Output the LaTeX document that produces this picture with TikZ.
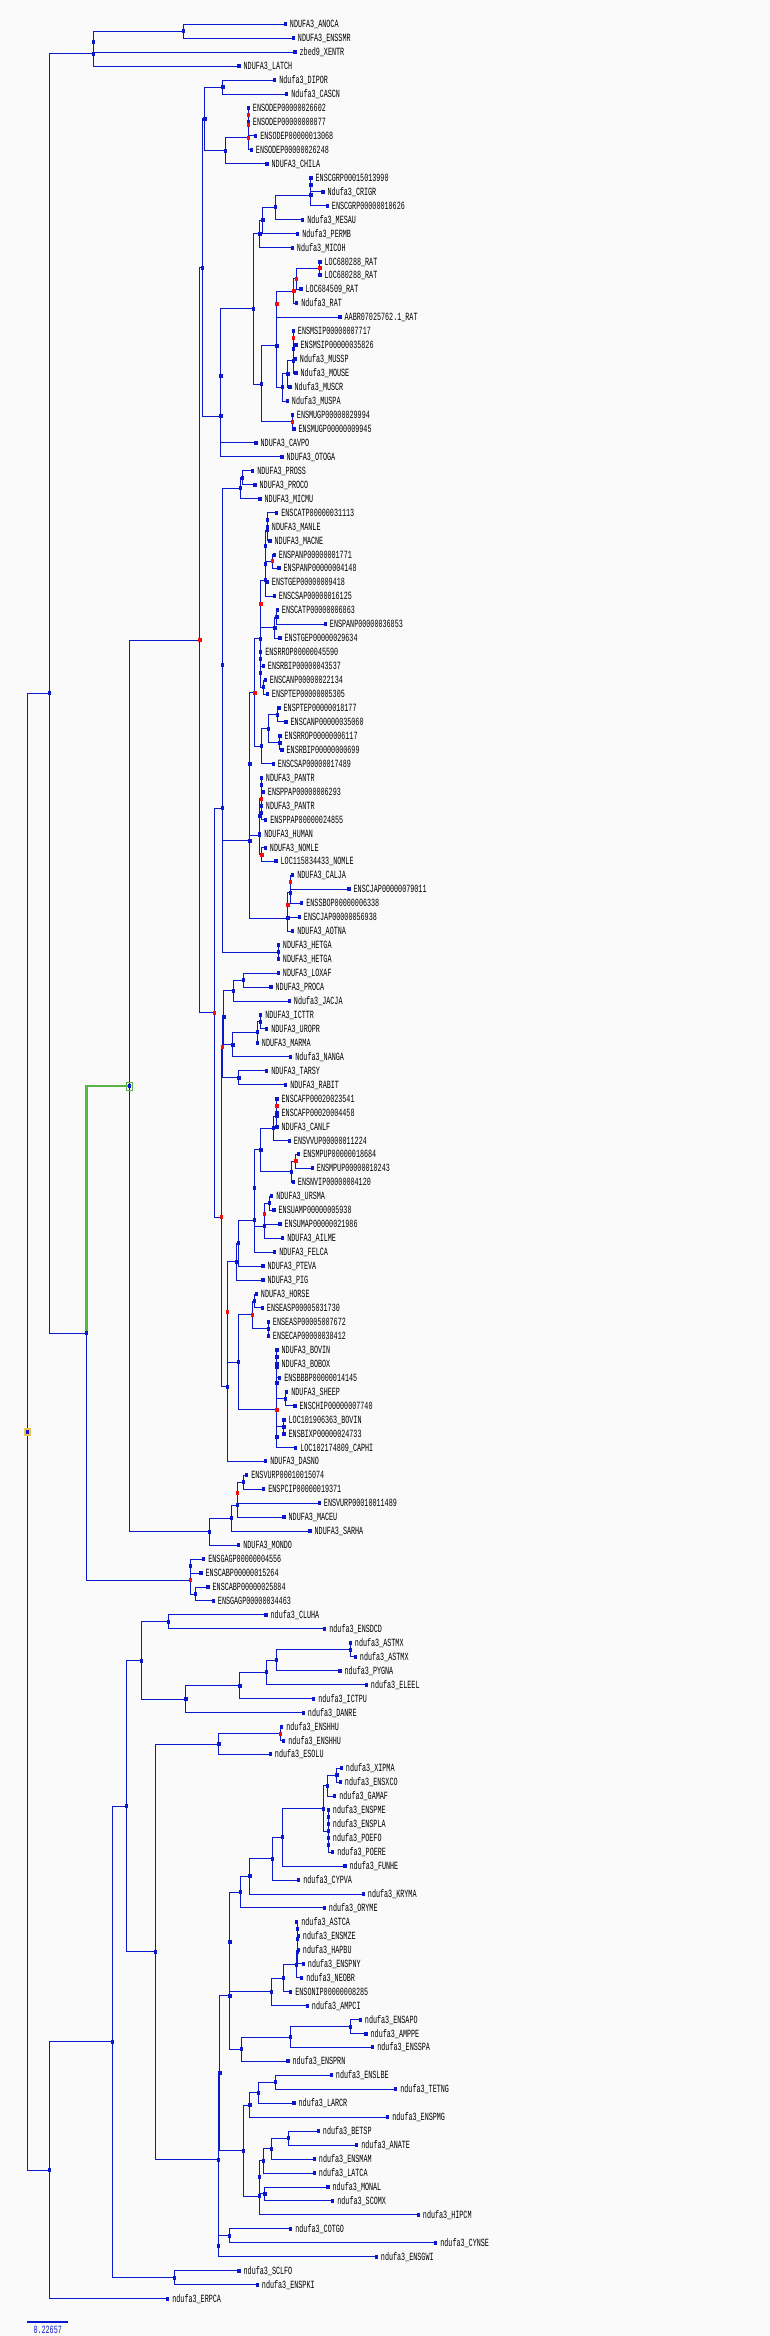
\documentclass[tikz,border=0pt]{standalone}
\usepackage{fontspec}
\newfontfamily\labfont[FakeStretch=0.614]{Liberation Mono}
\usetikzlibrary{backgrounds}
\definecolor{treeblue}{RGB}{12,24,204}
\definecolor{nodered}{RGB}{250,12,12}
\definecolor{hlgreen}{RGB}{92,180,72}
\definecolor{rootgold}{RGB}{236,196,84}
\definecolor{paper}{RGB}{250,250,250}
\tikzset{
  br/.style={treeblue, line width=1pt},
  gbr/.style={hlgreen, line width=2.7pt},
  leafsq/.style={fill=treeblue, inner sep=0pt, minimum width=3.3pt, minimum height=4pt},
  inode/.style={leafsq},
  rnode/.style={leafsq, fill=nodered},
  lab/.style={font=\labfont\fontsize{11}{11}\selectfont, inner sep=0pt, anchor=west, text height=7pt, text depth=0pt}
}
\begin{document}
\begin{tikzpicture}[x=1pt, y=-13.953pt]
\useasboundingbox (0,-0.7416) rectangle (770,166.68);

% leaves
\foreach \i/\x/\lbl in {1/285.3/NDUFA3\_ANOCA, 2/293.3/NDUFA3\_ENSSMR, 3/295/zbed9\_XENTR, 4/239/NDUFA3\_LATCH,
  5/274.7/Ndufa3\_DIPOR, 6/286.7/Ndufa3\_CASCN, 7/248.3/ENSODEP00000026602, 8/248.3/ENSODEP00000000877,
  9/255.7/ENSODEP00000013068, 10/251.3/ENSODEP00000026248, 11/267/NDUFA3\_CHILA, 12/311/ENSCGRP00015013990,
  13/323/Ndufa3\_CRIGR, 14/327.3/ENSCGRP00000010626, 15/302.7/Ndufa3\_MESAU, 16/297.7/Ndufa3\_PERMB,
  17/292.3/Ndufa3\_MICOH, 18/320/LOC680288\_RAT, 19/320/LOC680288\_RAT, 20/301/LOC684509\_RAT,
  21/296.7/Ndufa3\_RAT, 22/340/AABR07025762.1\_RAT, 23/293.3/ENSMSIP00000007717, 24/296/ENSMSIP00000035826,
  25/295.3/Ndufa3\_MUSSP, 26/296/Ndufa3\_MOUSE, 27/290/Ndufa3\_MUSCR, 28/287.3/Ndufa3\_MUSPA,
  29/292.3/ENSMUGP00000029994, 30/294/ENSMUGP00000009945, 31/256/NDUFA3\_CAVPO, 32/282/NDUFA3\_OTOGA,
  33/252.7/NDUFA3\_PROSS, 34/255/NDUFA3\_PROCO, 35/260/NDUFA3\_MICMU, 36/276.7/ENSCATP00000031113,
  37/267.3/NDUFA3\_MANLE, 38/270/NDUFA3\_MACNE, 39/274.3/ENSPANP00000001771, 40/279/ENSPANP00000004148,
  41/267.3/ENSTGEP00000009418, 42/274.3/ENSCSAP00000016125, 43/277.3/ENSCATP00000006863, 44/325.3/ENSPANP00000036853,
  45/280/ENSTGEP00000029634, 46/260.7/ENSRROP00000045590, 47/263.3/ENSRBIP00000043537, 48/265.3/ENSCANP00000022134,
  49/267.3/ENSPTEP00000005305, 50/279/ENSPTEP00000018177, 51/286/ENSCANP00000035060, 52/280/ENSRROP00000006117,
  53/282/ENSRBIP00000000699, 54/273.3/ENSCSAP00000017489, 55/261.3/NDUFA3\_PANTR, 56/263.3/ENSPPAP00000006293,
  57/261.3/NDUFA3\_PANTR, 58/265.7/ENSPPAP00000024855, 59/259.7/NDUFA3\_HUMAN, 60/265.3/NDUFA3\_NOMLE,
  61/276/LOC115834433\_NOMLE, 62/292.7/NDUFA3\_CALJA, 63/349/ENSCJAP00000079011, 64/301.7/ENSSBOP00000006338,
  65/299.3/ENSCJAP00000056938, 66/292.7/NDUFA3\_AOTNA, 67/278.3/NDUFA3\_HETGA, 68/278.3/NDUFA3\_HETGA,
  69/278.3/NDUFA3\_LOXAF, 70/271/NDUFA3\_PROCA, 71/289.3/Ndufa3\_JACJA, 72/260.7/NDUFA3\_ICTTR,
  73/266.7/NDUFA3\_UROPR, 74/257.3/NDUFA3\_MARMA, 75/290.7/Ndufa3\_NANGA, 76/266.7/NDUFA3\_TARSY,
  77/285.7/NDUFA3\_RABIT, 78/277/ENSCAFP00020023541, 79/277/ENSCAFP00020004458, 80/277/NDUFA3\_CANLF,
  81/289.3/ENSVVUP00000011224, 82/298.7/ENSMPUP00000018684, 83/312.3/ENSMPUP00000010243, 84/293.3/ENSNVIP00000004120,
  85/271.7/NDUFA3\_URSMA, 86/274/ENSUAMP00000005938, 87/280/ENSUMAP00000021986, 88/282.7/NDUFA3\_AILME,
  89/274.7/NDUFA3\_FELCA, 90/263/NDUFA3\_PTEVA, 91/263/NDUFA3\_PIG, 92/256.3/NDUFA3\_HORSE,
  93/262.3/ENSEASP00005031730, 94/268.3/ENSEASP00005007672, 95/268.3/ENSECAP00000038412, 96/277/NDUFA3\_BOVIN,
  97/277/NDUFA3\_BOBOX, 98/279.7/ENSBBBP00000014145, 99/286.7/NDUFA3\_SHEEP, 100/295/ENSCHIP00000007740,
  101/284/LOC101906363\_BOVIN, 102/284/ENSBIXP00000024733, 103/295.7/LOC102174809\_CAPHI, 104/265.7/NDUFA3\_DASNO,
  105/246.7/ENSVURP00010015074, 106/263.7/ENSPCIP00000019371, 107/319.3/ENSVURP00010011489, 108/284/NDUFA3\_MACEU,
  109/310/NDUFA3\_SARHA, 110/238.7/NDUFA3\_MONDO, 111/203.7/ENSGAGP00000004556, 112/201/ENSCABP00000015264,
  113/208/ENSCABP00000025884, 114/213.3/ENSGAGP00000034463, 115/266/ndufa3\_CLUHA, 116/324.7/ndufa3\_ENSDCD,
  117/350.3/ndufa3\_ASTMX, 118/355.3/ndufa3\_ASTMX, 119/340/ndufa3\_PYGNA, 120/366.3/ndufa3\_ELEEL,
  121/313.7/ndufa3\_ICTPU, 122/303.3/ndufa3\_DANRE, 123/281.7/ndufa3\_ENSHHU, 124/283.7/ndufa3\_ENSHHU,
  125/270.3/ndufa3\_ESOLU, 126/341.3/ndufa3\_XIPMA, 127/340.3/ndufa3\_ENSXCO, 128/334.7/ndufa3\_GAMAF,
  129/328.3/ndufa3\_ENSPME, 130/328.3/ndufa3\_ENSPLA, 131/328.3/ndufa3\_POEFO, 132/332.7/ndufa3\_POERE,
  133/345/ndufa3\_FUNHE, 134/298.7/ndufa3\_CYPVA, 135/363.3/ndufa3\_KRYMA, 136/324.3/ndufa3\_ORYME,
  137/296.7/ndufa3\_ASTCA, 138/298.3/ndufa3\_ENSMZE, 139/298.3/ndufa3\_HAPBU, 140/303.3/ndufa3\_ENSPNY,
  141/301.7/ndufa3\_NEOBR, 142/290.7/ENSONIP00000008285, 143/307.3/ndufa3\_AMPCI, 144/360.3/ndufa3\_ENSAPO,
  145/366/ndufa3\_AMPPE, 146/372.7/ndufa3\_ENSSPA, 147/288/ndufa3\_ENSPRN, 148/331.3/ndufa3\_ENSLBE,
  149/395.7/ndufa3\_TETNG, 150/294/ndufa3\_LARCR, 151/387.7/ndufa3\_ENSPMG, 152/318.3/ndufa3\_BETSP,
  153/356.7/ndufa3\_ANATE, 154/314.3/ndufa3\_ENSMAM, 155/314.3/ndufa3\_LATCA, 156/328/ndufa3\_MONAL,
  157/332.7/ndufa3\_SCOMX, 158/418.3/ndufa3\_HIPCM, 159/290.7/ndufa3\_COTGO, 160/435.7/ndufa3\_CYNSE,
  161/376.3/ndufa3\_ENSGWI, 162/239/ndufa3\_SCLFO, 163/257.3/ndufa3\_ENSPKI, 164/167.7/ndufa3\_ERPCA}{
  \node[leafsq] (l\i) at (\x,\i) {};
  \node[lab] (t\i) at ([xshift=2.6pt]l\i.east) {\lbl};
}

% inner nodes
\foreach \n/\x/\k in {A/49.3/48.96, B3/93.3/3.125, B2/93.3/2.25, B1/183.7/1.5, C/86.7/94.8, E1/190.3/111.5,
  E2/195.7/113.5, F/209.3/109.03, G/231.7/108.06, H/237.7/107.125, J/243.7/105.5, L/202.7/18.44, N/205/7.78,
  N1/223/5.5, O/225.7/10.06, S/221/29.1, U/221/26.2, T/253.3/21.4, V/260/16.02, W/263/15.05, X/275.3/14.1,
  Y/311/13.25, Z/311/12.5, AA/261.7/26.78, CC/277/24.05, FF/282.7/27.03, GG/288/26.06, LL/293.3/25.125,
  KK/293.3/24.25, NN/222.7/57.2, RR/278.3/67.5, OO/222.7/46.89, PP/240.7/34.25, PP1/242.3/33.5, QQ/250/59.53,
  SS/250/54.0, AC/260.7/45.03, AS/265.7/40.84, AR/265.7/39.69, AQ/265.7/38.375, AO/267.3/37.25, AN/267.3/36.5,
  AM/275/44.25, AL/277/43.5, AH/260.7/47.5, AJ/260.7/46.5, AI/263.3/48.5, AD/261.7/52.75, AE/268.3/51.5,
  AF/277.3/50.5, AG/280/52.5, UU/259.7/59.125, AB/259.7/57.75, XX/261.7/55.5, ZZ/261.3/57.5, VV/288/65.06,
  AU/290.7/63.25, BD/224/72.17, BF/233.7/70.25, BF1/243.3/69.5, BG/233/74.12, BH/257.3/73.25, BI/260.7/72.5,
  BE/239/76.5, BC/227.7/98.64, BK/236.7/89.67, BL/238.3/88.35, BM/254.3/86.7, BN/254.3/84.39, BP/261/81.66,
  BQ/273.3/80.13, BR/277/79.25, BT/291.7/83.25, BO/264.3/87.125, BV/269.7/85.5, BW/238.7/96.9, BY/254.7/92.5,
  BZ/268.3/94.5, CE/277/98.375, CF/277/97.25, CB/277/96.5, CC2/285.7/99.5, CG/277/102.25, CD/284/101.5,
  da/49.3/154.8, db/112.3/145.6, db1/174.3/162.5, dc/126.7/128.71, dd/141.3/118.27, de/168.7/115.5,
  df/186/121.03, dg/240/120.06, dh/266.7/119.125, di/276.7/118.25, dj/350.3/117.5, dk/155.3/139.15,
  dl/219/124.25, dn/218.3/154.04, do/220/147.84, dp/218.3/160.25, dq/229.3/159.5, dr/230/142.28,
  dt/230/138.44, du/240.7/134.87, dx/250/133.73, dy/272.7/132.47, dz/282.7/130.94, ea/323.3/128.875,
  ec/327.7/127.25, ed/337/126.5, eb/328.3/130.5, ee/328.3/129.5, ef/328.3/131.5, dv/271.7/142.02,
  eg/283.3/141.03, ek/296.7/140.06, ej/297.5/139.125, ei/297.5/138.25, eh/297.5/137.5, dw/241.3/146.125,
  el/290.7/145.25, em/350.3/144.5, ds/243.7/153.39, en/250/150.125, ep/258.3/149.25, eq/275.3/148.5,
  eo/259.7/156.66, ev/259.7/155.31, eu/263.7/154.125, es/271.7/153.25, et/288.3/152.5, er/265/156.5}
  \node[inode] (\n) at (\x,\k) {};
\foreach \n/\x/\k in {E/190.3/112.5, I/237.7/106.25, K/200/45.14, P/248.3/9.125, R/248.3/8.25, Q/248.3/7.5,
  DD/292.3/29.5, EE/277/21.07, BB/294/20.14, HH/296.7/19.25, II/320/18.5, JJ/293.3/23.5, M/214.7/71.84,
  TT/255/48.89, AK/261/42.55, AP/272.7/39.5, YY/261.7/56.5, WW/262/60.5, AV/288/64.125, AT/290.7/62.5,
  BA/221.3/86.49, BB2/222.7/74.33, BJ/227.7/93.29, BS/277/78.5, BT1/296/82.5, BU/264.3/86.25,
  BX/252.7/93.5, CA/277/100.31, dm/280.7/123.5}
  \node[rnode] (\n) at (\x,\k) {};
\node[inode] (D) at (129.3,77.09) {};
\node[draw=hlgreen, line width=0.7pt, inner sep=0pt, minimum width=5.6pt, minimum height=8pt] (Dmark) at (D) {};
\node[leafsq, draw=rootgold, line width=2pt, minimum width=4.5pt, minimum height=6pt] (root) at (27.3,101.88) {};

\begin{pgfonlayer}{background}
\fill[paper] (0,-0.7416) rectangle (770,166.68);
\foreach \p/\c in {root/A, root/da, A/B3, A/C, B3/B2, B3/l4, B2/B1, B2/l3, B1/l1, B1/l2,
  C/E, E/E1, E/E2, E1/l111, E1/l112, E2/l113, E2/l114,
  D/K, D/F, F/G, F/l110, G/H, G/l109, H/I, H/l108, I/J, I/l107, J/l105, J/l106,
  K/L, K/M, L/N, L/S, N/N1, N/O, N1/l5, N1/l6, O/P, O/l11, P/R, P/l10, R/Q, R/l9, Q/l7, Q/l8,
  S/U, S/l32, U/T, U/l31, T/V, T/AA, V/W, V/l17, W/X, W/l16, X/Y, X/l15, Y/Z, Y/l14, Z/l12, Z/l13,
  AA/CC, AA/DD, DD/l29, DD/l30, CC/EE, CC/FF, EE/BB, EE/l22, BB/HH, BB/l21, HH/II, HH/l20, II/l18, II/l19,
  FF/GG, FF/l28, GG/LL, GG/l27, LL/KK, LL/l26, KK/JJ, KK/l25, JJ/l23, JJ/l24,
  M/NN, M/BA, NN/OO, NN/RR, RR/l67, RR/l68, OO/PP, OO/QQ, PP/PP1, PP/l35, PP1/l33, PP1/l34,
  QQ/SS, QQ/VV, SS/TT, SS/UU, TT/AC, TT/AD, AC/AK, AC/AH, AK/AS, AK/AM, AS/AR, AS/l42, AR/AQ, AR/l41,
  AQ/AO, AQ/AP, AO/AN, AO/l38, AN/l36, AN/l37, AP/l39, AP/l40, AM/AL, AM/l45, AL/l43, AL/l44,
  AH/AJ, AH/AI, AJ/l46, AJ/l47, AI/l48, AI/l49, AD/AE, AD/l54, AE/AF, AE/AG, AF/l50, AF/l51, AG/l52, AG/l53,
  UU/AB, UU/WW, AB/YY, AB/l59, YY/XX, YY/ZZ, XX/l55, XX/l56, ZZ/l57, ZZ/l58, WW/l60, WW/l61,
  VV/AV, VV/l66, AV/AU, AV/l65, AU/AT, AU/l64, AT/l62, AT/l63,
  BA/BB2, BA/BC, BB2/BD, BB2/BE, BD/BF, BD/BG, BF/BF1, BF/l71, BF1/l69, BF1/l70, BG/BH, BG/l75,
  BH/BI, BH/l74, BI/l72, BI/l73, BE/l76, BE/l77,
  BC/BJ, BC/l104, BJ/BK, BJ/BW, BK/BL, BK/l91, BL/BM, BL/l90, BM/BN, BM/l89, BN/BP, BN/BO,
  BP/BQ, BP/BT, BQ/BR, BQ/l81, BR/BS, BR/l80, BS/l78, BS/l79, BT/BT1, BT/l84, BT1/l82, BT1/l83,
  BO/BU, BO/l88, BU/BV, BU/l87, BV/l85, BV/l86,
  BW/BX, BW/CA, BX/BY, BX/BZ, BY/l92, BY/l93, BZ/l94, BZ/l95, CA/CE, CA/CG, CE/CF, CE/CC2,
  CF/CB, CF/l98, CB/l96, CB/l97, CC2/l99, CC2/l100, CG/CD, CG/l103, CD/l101, CD/l102,
  da/db, da/l164, db/dc, db/db1, db1/l162, db1/l163, dc/dd, dc/dk, dd/de, dd/df, de/l115, de/l116,
  df/dg, df/l122, dg/dh, dg/l121, dh/di, dh/l120, di/dj, di/l119, dj/l117, dj/l118,
  dk/dl, dk/dn, dl/dm, dl/l125, dm/l123, dm/l124, dn/do, dn/dp, dp/dq, dp/l161, dq/l159, dq/l160,
  do/dr, do/ds, dr/dt, dr/dw, dt/du, dt/dv, du/dx, du/l136, dx/dy, dx/l135, dy/dz, dy/l134,
  dz/ea, dz/l133, ea/ec, ea/eb, ec/ed, ec/l128, ed/l126, ed/l127, eb/ee, eb/ef, ee/l129, ee/l130,
  ef/l131, ef/l132, dv/eg, dv/l143, eg/ek, eg/l142, ek/ej, ek/l141, ej/ei, ej/l140, ei/eh, ei/l139,
  eh/l137, eh/l138, dw/el, dw/l147, el/em, el/l146, em/l144, em/l145,
  ds/en, ds/eo, en/ep, en/l151, ep/eq, ep/l150, eq/l148, eq/l149, eo/ev, eo/l158, ev/eu, ev/er,
  eu/es, eu/l155, es/et, es/l154, et/l152, et/l153, er/l156, er/l157}
  \draw[br] (\p.center) |- (\c.center);
\draw[gbr] (C.center) |- (D.center);
\end{pgfonlayer}

% scale bar
\coordinate (sbl) at (27.3,165.65);
\coordinate (sbr) at (68.3,165.65);
\draw[treeblue, line width=2pt] (sbl) -- (sbr);
\node[lab, anchor=center, text=treeblue] (sbt) at (47.7,166.24) {0.22657};
\end{tikzpicture}
\end{document}
